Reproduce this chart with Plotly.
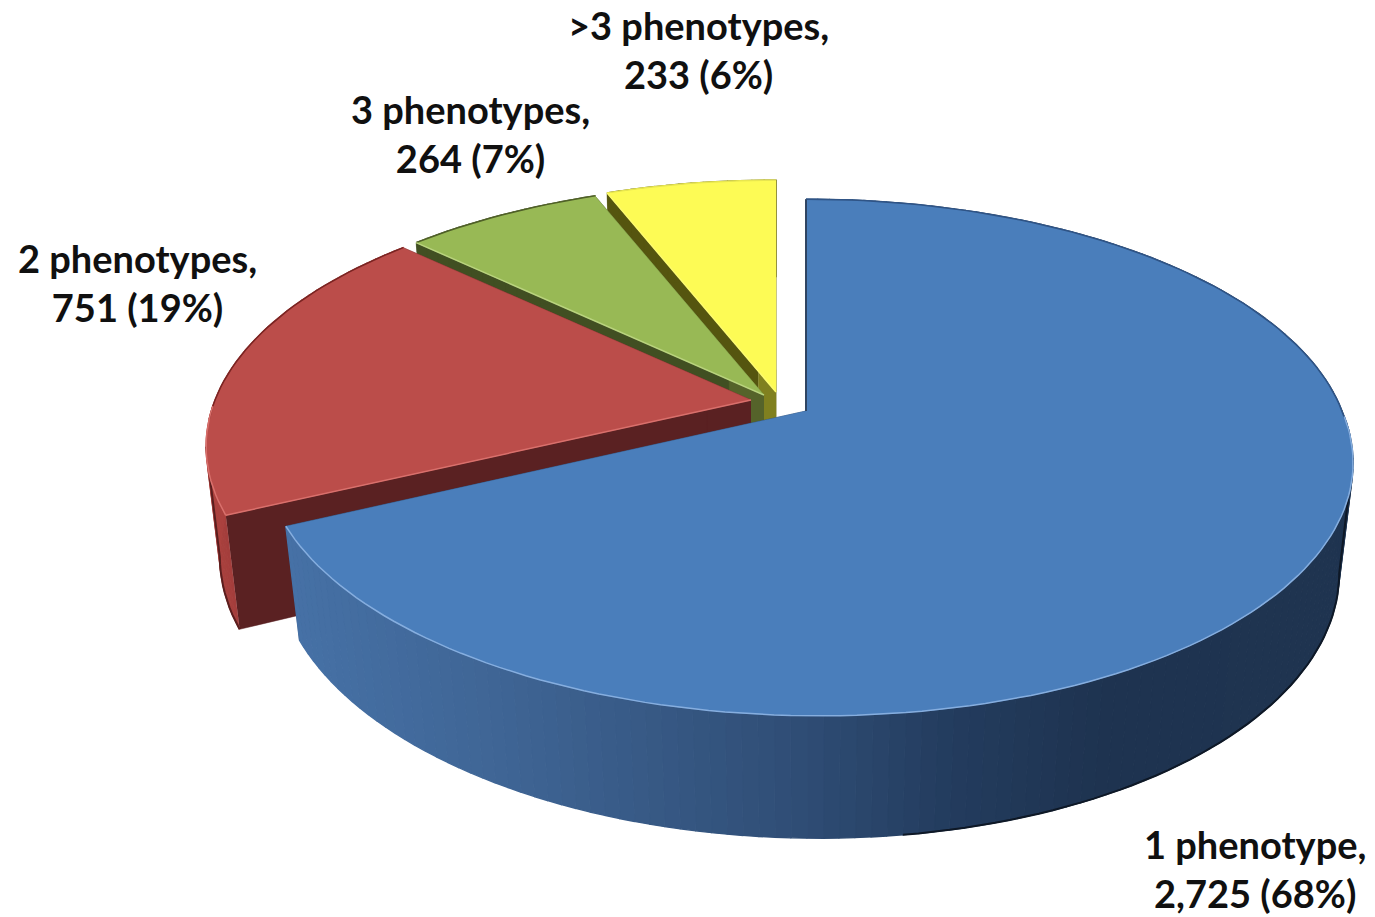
import numpy as np
import plotly.graph_objects as go

# Chart data, listed in drawing order (back slices first)
categories = [">3 phenotypes", "3 phenotypes", "2 phenotypes", "1 phenotype"]
counts = [233, 264, 751, 2725]
shares = [6, 7, 19, 68]

# Layout of the tilted pie, in page pixels
RADIUS = 536.0
TILT = 250.0
DEPTH = 111.0
PERSP_V = 0.18
PERSP_Z = 0.025
apexes = [(776, 392), (764, 395), (751, 400), (806, 411)]
front_lean = [0, 0, 0, 11]
label_anchor = [(698, 49), (470, 133), (137, 282), (1255, 868)]

top_colors = ["#FDFB55", "#98B955", "#BB4D4A", "#4A7EBB"]
outer_stops = [
    [(0, "#55550F"), (1400, "#55550F")],
    [(0, "#414F22"), (1400, "#414F22")],
    [(200, "#B24542"), (240, "#A03C3A"), (800, "#7a2c2a")],
    [(290, "#4671A6"), (500, "#3F6595"), (800, "#2F4D75"),
     (950, "#233C5E"), (1100, "#1E3350"), (1350, "#1F3450")],
]
face_colors = ["#55550F", "#414F22", "#5A2122", "#20324C"]
face_apex_colors = ["#80801F", "#55632A", "#5A2122", "#20324C"]
rim_light = ["#FDFB70", "#B9D37E", "#D9706C", "#86AEDF"]
rim_dark = ["#E8E650", "#4F5F28", "#7A2422", "#2F5486"]
bottom_edge = ["#55550F", "#3c4a1e", "#5A1E1E", "#0E1826"]
bottom_edge_from_x = [0, 0, 0, 900]


def hex_rgb(c):
    return np.array([int(c[i:i + 2], 16) for i in (1, 3, 5)], dtype=float)


def mix(a, b, t):
    r = hex_rgb(a) * (1 - t) + hex_rgb(b) * t
    return "rgb(%d,%d,%d)" % tuple(r.round())


def ramp(stops, x):
    xs = [s[0] for s in stops]
    if x <= xs[0]:
        return mix(stops[0][1], stops[0][1], 0)
    if x >= xs[-1]:
        return mix(stops[-1][1], stops[-1][1], 0)
    j = int(np.searchsorted(xs, x)) - 1
    t = (x - xs[j]) / (xs[j + 1] - xs[j])
    return mix(stops[j][1], stops[j + 1][1], t)


def project(i, theta, r, z):
    """Perspective projection of a point on slice i; theta runs clockwise from 12 o'clock."""
    apex = apexes[i]
    u, v = r * np.sin(theta), r * np.cos(theta)
    w = 1 + PERSP_V * v + PERSP_Z * z
    lean = front_lean[i] * max(0.0, -v)
    return apex[0] + (RADIUS * u + lean) / w, apex[1] - TILT * v / w + DEPTH * z / w


fig = go.Figure()


def polygon(xs, ys, color, seam=1.4):
    fig.add_trace(go.Scatter(
        x=xs, y=ys, mode="lines", fill="toself", fillcolor=color,
        line=dict(color=color, width=seam), hoverinfo="skip", showlegend=False))


def stroke(xs, ys, color, width):
    fig.add_trace(go.Scatter(
        x=xs, y=ys, mode="lines", line=dict(color=color, width=width),
        hoverinfo="skip", showlegend=False))


# Slice boundaries come from the stated percentages, walking backwards from 12 o'clock
ends = []
cursor = 2 * np.pi
for share in shares:
    ends.append((cursor - share / 100 * 2 * np.pi, cursor))
    cursor = cursor - share / 100 * 2 * np.pi

# Angle at which the wall's outline is vertical on screen, on either side of the pie
tangent_right = np.arccos(-PERSP_V)
tangent_left = 2 * np.pi - tangent_right

for i, name in enumerate(categories):
    start, stop = ends[i]
    apex = apexes[i]
    thetas = np.linspace(start, stop, max(6, int((stop - start) * 40)))

    # Cut faces, lighter close to the centre
    for edge in (stop, start):
        for r0, r1, color in ((0.09, 1, face_colors[i]), (0, 0.09, face_apex_colors[i])):
            pts = [project(i, edge, r0, 0), project(i, edge, r1, 0),
                   project(i, edge, r1, 1), project(i, edge, r0, 1)]
            xs, ys = zip(*pts)
            polygon(list(xs), list(ys), color, seam=0.5)

    # Outer wall as narrow shaded strips
    for a, b in zip(thetas[:-1], thetas[1:]):
        pts = [project(i, a, 1, 0), project(i, b, 1, 0),
               project(i, b, 1, 1), project(i, a, 1, 1)]
        xs, ys = zip(*pts)
        polygon(list(xs), list(ys), ramp(outer_stops[i], sum(xs) / 4))

    # Dark outline along the lower rim and up the silhouette of the wall
    bottom = [project(i, t, 1, 1) for t in thetas if np.cos(t) <= -PERSP_V]
    bottom = [p for p in bottom if p[0] >= bottom_edge_from_x[i]]
    for tangent in (tangent_right, tangent_left):
        if start <= tangent <= stop:
            p0, p1 = project(i, tangent, 1, 0), project(i, tangent, 1, 1)
            if p0[0] >= bottom_edge_from_x[i]:
                bottom = [p0, p1] + bottom if tangent == tangent_right else bottom + [p1, p0]
    if bottom:
        stroke([p[0] for p in bottom], [p[1] for p in bottom], bottom_edge[i], 2)

    # Top surface
    tx, ty = zip(*[project(i, t, 1, 0) for t in thetas])
    polygon([apex[0], *tx, apex[0]], [apex[1], *ty, apex[1]], top_colors[i], seam=0.5)

    # Bevel highlights: dark along the back of the rim, light along the front
    back = [k for k, t in enumerate(thetas) if np.cos(t) >= -0.1]
    front = [k for k, t in enumerate(thetas) if np.cos(t) <= 0.0]
    if back:
        stroke([tx[k] for k in back], [ty[k] for k in back], rim_dark[i], 1.5)
    if front:
        stroke([tx[k] for k in front], [ty[k] for k in front], rim_light[i], 1.5)
    ex, ey = project(i, start, 1, 0)
    stroke([apex[0], ex], [apex[1], ey], rim_light[i], 1.5)

# Dark seam on the vertical edge of the largest slice
ax = apexes[3]
sx, sy = project(3, 0, 1, 0)
stroke([ax[0], sx], [ax[1], sy], "#16263C", 1.5)

for name, count, share, (lx, ly) in zip(categories, counts, shares, label_anchor):
    fig.add_annotation(
        x=lx, y=ly, xref="x", yref="y", showarrow=False, align="center",
        text=f"<b>{name},<br>{count:,} ({share}%)</b>",
        font=dict(family="Lato", size=38, color="#101010"))

fig.update_layout(
    width=1375, height=917, margin=dict(l=0, r=0, t=0, b=0),
    paper_bgcolor="white", plot_bgcolor="white", showlegend=False,
    xaxis=dict(range=[0, 1375], visible=False, fixedrange=True),
    yaxis=dict(range=[917, 0], visible=False, fixedrange=True))

fig.write_html("out.html", config=dict(displayModeBar=False))
